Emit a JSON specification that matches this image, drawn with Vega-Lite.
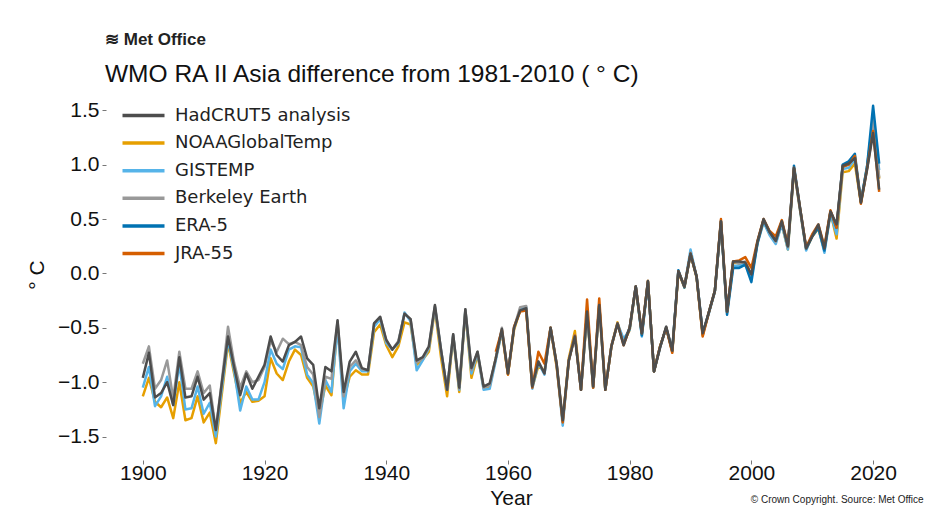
{
"$schema": "https://vega.github.io/schema/vega-lite/v6.json",
"width": 810, "height": 371,
"autosize": {"type": "none"},
"padding": {"left": 106, "top": 89, "right": 12, "bottom": 63},
"background": "white",
"title": {"text": "≋ Met Office", "subtitle": "WMO RA II Asia difference from 1981-2010 ( ° C)", "anchor": "start", "frame": "group", "dx": -1, "offset": 2, "font": "Liberation Sans", "fontSize": 17, "fontWeight": "bold", "color": "#222222", "subtitleFont": "Liberation Sans", "subtitleFontSize": 24.5, "subtitleColor": "#111111", "subtitlePadding": 14},
"datasets": {
"had": [{"year":1900,"value":-0.96},{"year":1901,"value":-0.73},{"year":1902,"value":-1.14},{"year":1903,"value":-1.10},{"year":1904,"value":-1.00},{"year":1905,"value":-1.21},{"year":1906,"value":-0.77},{"year":1907,"value":-1.14},{"year":1908,"value":-1.13},{"year":1909,"value":-0.95},{"year":1910,"value":-1.16},{"year":1911,"value":-1.10},{"year":1912,"value":-1.44},{"year":1913,"value":-1.00},{"year":1914,"value":-0.58},{"year":1915,"value":-0.86},{"year":1916,"value":-1.12},{"year":1917,"value":-0.92},{"year":1918,"value":-1.06},{"year":1919,"value":-0.95},{"year":1920,"value":-0.84},{"year":1921,"value":-0.58},{"year":1922,"value":-0.75},{"year":1923,"value":-0.81},{"year":1924,"value":-0.66},{"year":1925,"value":-0.63},{"year":1926,"value":-0.58},{"year":1927,"value":-0.78},{"year":1928,"value":-0.84},{"year":1929,"value":-1.24},{"year":1930,"value":-0.86},{"year":1931,"value":-0.90},{"year":1932,"value":-0.43},{"year":1933,"value":-1.09},{"year":1934,"value":-0.81},{"year":1935,"value":-0.72},{"year":1936,"value":-0.87},{"year":1937,"value":-0.89},{"year":1938,"value":-0.46},{"year":1939,"value":-0.40},{"year":1940,"value":-0.61},{"year":1941,"value":-0.70},{"year":1942,"value":-0.63},{"year":1943,"value":-0.37},{"year":1944,"value":-0.42},{"year":1945,"value":-0.80},{"year":1946,"value":-0.77},{"year":1947,"value":-0.67},{"year":1948,"value":-0.29},{"year":1949,"value":-0.70},{"year":1950,"value":-1.07},{"year":1951,"value":-0.56},{"year":1952,"value":-1.05},{"year":1953,"value":-0.33},{"year":1954,"value":-0.87},{"year":1955,"value":-0.72},{"year":1956,"value":-1.04},{"year":1957,"value":-1.01},{"year":1958,"value":-0.78},{"year":1959,"value":-0.51},{"year":1960,"value":-0.92},{"year":1961,"value":-0.50},{"year":1962,"value":-0.34},{"year":1963,"value":-0.32},{"year":1964,"value":-1.04},{"year":1965,"value":-0.81},{"year":1966,"value":-0.92},{"year":1967,"value":-0.50},{"year":1968,"value":-0.83},{"year":1969,"value":-1.35},{"year":1970,"value":-0.80},{"year":1971,"value":-0.58},{"year":1972,"value":-1.07},{"year":1973,"value":-0.35},{"year":1974,"value":-1.04},{"year":1975,"value":-0.29},{"year":1976,"value":-1.07},{"year":1977,"value":-0.67},{"year":1978,"value":-0.46},{"year":1979,"value":-0.66},{"year":1980,"value":-0.50},{"year":1981,"value":-0.12},{"year":1982,"value":-0.55},{"year":1983,"value":-0.07},{"year":1984,"value":-0.90},{"year":1985,"value":-0.68},{"year":1986,"value":-0.49},{"year":1987,"value":-0.71},{"year":1988,"value":0.02},{"year":1989,"value":-0.12},{"year":1990,"value":0.18},{"year":1991,"value":-0.03},{"year":1992,"value":-0.55},{"year":1993,"value":-0.36},{"year":1994,"value":-0.16},{"year":1995,"value":0.48},{"year":1996,"value":-0.35},{"year":1997,"value":0.11},{"year":1998,"value":0.11},{"year":1999,"value":0.10},{"year":2000,"value":-0.01},{"year":2001,"value":0.29},{"year":2002,"value":0.50},{"year":2003,"value":0.38},{"year":2004,"value":0.30},{"year":2005,"value":0.48},{"year":2006,"value":0.25},{"year":2007,"value":0.97},{"year":2008,"value":0.60},{"year":2009,"value":0.23},{"year":2010,"value":0.34},{"year":2011,"value":0.45},{"year":2012,"value":0.23},{"year":2013,"value":0.57},{"year":2014,"value":0.45},{"year":2015,"value":0.99},{"year":2016,"value":1.01},{"year":2017,"value":1.06},{"year":2018,"value":0.65},{"year":2019,"value":0.95},{"year":2020,"value":1.29},{"year":2021,"value":0.77}],
"noaa": [{"year":1900,"value":-1.13},{"year":1901,"value":-0.96},{"year":1902,"value":-1.18},{"year":1903,"value":-1.23},{"year":1904,"value":-1.14},{"year":1905,"value":-1.33},{"year":1906,"value":-1.00},{"year":1907,"value":-1.35},{"year":1908,"value":-1.33},{"year":1909,"value":-1.13},{"year":1910,"value":-1.37},{"year":1911,"value":-1.28},{"year":1912,"value":-1.56},{"year":1913,"value":-1.10},{"year":1914,"value":-0.64},{"year":1915,"value":-0.92},{"year":1916,"value":-1.19},{"year":1917,"value":-1.09},{"year":1918,"value":-1.18},{"year":1919,"value":-1.17},{"year":1920,"value":-1.13},{"year":1921,"value":-0.78},{"year":1922,"value":-0.92},{"year":1923,"value":-0.98},{"year":1924,"value":-0.81},{"year":1925,"value":-0.70},{"year":1926,"value":-0.75},{"year":1927,"value":-0.96},{"year":1928,"value":-1.04},{"year":1929,"value":-1.30},{"year":1930,"value":-1.03},{"year":1931,"value":-1.12},{"year":1932,"value":-0.47},{"year":1933,"value":-1.16},{"year":1934,"value":-0.95},{"year":1935,"value":-0.89},{"year":1936,"value":-0.93},{"year":1937,"value":-0.93},{"year":1938,"value":-0.54},{"year":1939,"value":-0.47},{"year":1940,"value":-0.66},{"year":1941,"value":-0.77},{"year":1942,"value":-0.67},{"year":1943,"value":-0.45},{"year":1944,"value":-0.47},{"year":1945,"value":-0.84},{"year":1946,"value":-0.79},{"year":1947,"value":-0.72},{"year":1948,"value":-0.33},{"year":1949,"value":-0.77},{"year":1950,"value":-1.13},{"year":1951,"value":-0.58},{"year":1952,"value":-1.09},{"year":1953,"value":-0.35},{"year":1954,"value":-0.96},{"year":1955,"value":-0.75},{"year":1956,"value":-1.05},{"year":1957,"value":-1.04},{"year":1958,"value":-0.78},{"year":1959,"value":-0.54},{"year":1960,"value":-0.93},{"year":1961,"value":-0.52},{"year":1962,"value":-0.34},{"year":1963,"value":-0.33},{"year":1964,"value":-1.05},{"year":1965,"value":-0.85},{"year":1966,"value":-0.90},{"year":1967,"value":-0.50},{"year":1968,"value":-0.86},{"year":1969,"value":-1.36},{"year":1970,"value":-0.78},{"year":1971,"value":-0.53},{"year":1972,"value":-1.07},{"year":1973,"value":-0.37},{"year":1974,"value":-1.05},{"year":1975,"value":-0.30},{"year":1976,"value":-1.07},{"year":1977,"value":-0.67},{"year":1978,"value":-0.45},{"year":1979,"value":-0.64},{"year":1980,"value":-0.52},{"year":1981,"value":-0.13},{"year":1982,"value":-0.56},{"year":1983,"value":-0.07},{"year":1984,"value":-0.90},{"year":1985,"value":-0.67},{"year":1986,"value":-0.50},{"year":1987,"value":-0.72},{"year":1988,"value":0.01},{"year":1989,"value":-0.13},{"year":1990,"value":0.18},{"year":1991,"value":-0.04},{"year":1992,"value":-0.57},{"year":1993,"value":-0.36},{"year":1994,"value":-0.16},{"year":1995,"value":0.47},{"year":1996,"value":-0.36},{"year":1997,"value":0.10},{"year":1998,"value":0.09},{"year":1999,"value":0.10},{"year":2000,"value":-0.02},{"year":2001,"value":0.28},{"year":2002,"value":0.48},{"year":2003,"value":0.36},{"year":2004,"value":0.29},{"year":2005,"value":0.45},{"year":2006,"value":0.22},{"year":2007,"value":0.95},{"year":2008,"value":0.58},{"year":2009,"value":0.22},{"year":2010,"value":0.34},{"year":2011,"value":0.41},{"year":2012,"value":0.21},{"year":2013,"value":0.56},{"year":2014,"value":0.32},{"year":2015,"value":0.93},{"year":2016,"value":0.94},{"year":2017,"value":1.01},{"year":2018,"value":0.65},{"year":2019,"value":0.97},{"year":2020,"value":1.35},{"year":2021,"value":0.87}],
"gis": [{"year":1900,"value":-1.05},{"year":1901,"value":-0.86},{"year":1902,"value":-1.22},{"year":1903,"value":-1.13},{"year":1904,"value":-0.95},{"year":1905,"value":-1.21},{"year":1906,"value":-0.83},{"year":1907,"value":-1.25},{"year":1908,"value":-1.24},{"year":1909,"value":-1.04},{"year":1910,"value":-1.29},{"year":1911,"value":-1.19},{"year":1912,"value":-1.50},{"year":1913,"value":-1.05},{"year":1914,"value":-0.61},{"year":1915,"value":-0.89},{"year":1916,"value":-1.26},{"year":1917,"value":-1.04},{"year":1918,"value":-1.16},{"year":1919,"value":-1.16},{"year":1920,"value":-1.00},{"year":1921,"value":-0.70},{"year":1922,"value":-0.83},{"year":1923,"value":-0.88},{"year":1924,"value":-0.70},{"year":1925,"value":-0.67},{"year":1926,"value":-0.68},{"year":1927,"value":-0.93},{"year":1928,"value":-1.01},{"year":1929,"value":-1.38},{"year":1930,"value":-0.98},{"year":1931,"value":-1.09},{"year":1932,"value":-0.49},{"year":1933,"value":-1.24},{"year":1934,"value":-0.90},{"year":1935,"value":-0.83},{"year":1936,"value":-0.90},{"year":1937,"value":-0.90},{"year":1938,"value":-0.49},{"year":1939,"value":-0.42},{"year":1940,"value":-0.64},{"year":1941,"value":-0.70},{"year":1942,"value":-0.64},{"year":1943,"value":-0.36},{"year":1944,"value":-0.44},{"year":1945,"value":-0.89},{"year":1946,"value":-0.80},{"year":1947,"value":-0.69},{"year":1948,"value":-0.31},{"year":1949,"value":-0.71},{"year":1950,"value":-1.07},{"year":1951,"value":-0.57},{"year":1952,"value":-1.07},{"year":1953,"value":-0.34},{"year":1954,"value":-0.92},{"year":1955,"value":-0.73},{"year":1956,"value":-1.07},{"year":1957,"value":-1.06},{"year":1958,"value":-0.80},{"year":1959,"value":-0.53},{"year":1960,"value":-0.92},{"year":1961,"value":-0.50},{"year":1962,"value":-0.33},{"year":1963,"value":-0.31},{"year":1964,"value":-1.06},{"year":1965,"value":-0.82},{"year":1966,"value":-0.93},{"year":1967,"value":-0.50},{"year":1968,"value":-0.84},{"year":1969,"value":-1.40},{"year":1970,"value":-0.80},{"year":1971,"value":-0.57},{"year":1972,"value":-1.07},{"year":1973,"value":-0.36},{"year":1974,"value":-1.05},{"year":1975,"value":-0.29},{"year":1976,"value":-1.07},{"year":1977,"value":-0.67},{"year":1978,"value":-0.46},{"year":1979,"value":-0.60},{"year":1980,"value":-0.52},{"year":1981,"value":-0.12},{"year":1982,"value":-0.58},{"year":1983,"value":-0.08},{"year":1984,"value":-0.90},{"year":1985,"value":-0.68},{"year":1986,"value":-0.50},{"year":1987,"value":-0.72},{"year":1988,"value":0.02},{"year":1989,"value":-0.12},{"year":1990,"value":0.22},{"year":1991,"value":-0.03},{"year":1992,"value":-0.55},{"year":1993,"value":-0.37},{"year":1994,"value":-0.17},{"year":1995,"value":0.47},{"year":1996,"value":-0.36},{"year":1997,"value":0.07},{"year":1998,"value":0.07},{"year":1999,"value":0.09},{"year":2000,"value":-0.04},{"year":2001,"value":0.27},{"year":2002,"value":0.47},{"year":2003,"value":0.35},{"year":2004,"value":0.27},{"year":2005,"value":0.45},{"year":2006,"value":0.22},{"year":2007,"value":0.96},{"year":2008,"value":0.58},{"year":2009,"value":0.21},{"year":2010,"value":0.35},{"year":2011,"value":0.42},{"year":2012,"value":0.19},{"year":2013,"value":0.55},{"year":2014,"value":0.36},{"year":2015,"value":0.96},{"year":2016,"value":0.97},{"year":2017,"value":1.05},{"year":2018,"value":0.66},{"year":2019,"value":0.98},{"year":2020,"value":1.42},{"year":2021,"value":0.95}],
"berk": [{"year":1900,"value":-0.83},{"year":1901,"value":-0.67},{"year":1902,"value":-1.06},{"year":1903,"value":-0.98},{"year":1904,"value":-0.80},{"year":1905,"value":-1.15},{"year":1906,"value":-0.72},{"year":1907,"value":-1.06},{"year":1908,"value":-1.06},{"year":1909,"value":-0.90},{"year":1910,"value":-1.10},{"year":1911,"value":-1.03},{"year":1912,"value":-1.44},{"year":1913,"value":-0.98},{"year":1914,"value":-0.49},{"year":1915,"value":-0.82},{"year":1916,"value":-1.05},{"year":1917,"value":-0.90},{"year":1918,"value":-1.00},{"year":1919,"value":-0.98},{"year":1920,"value":-0.86},{"year":1921,"value":-0.62},{"year":1922,"value":-0.72},{"year":1923,"value":-0.60},{"year":1924,"value":-0.65},{"year":1925,"value":-0.63},{"year":1926,"value":-0.66},{"year":1927,"value":-0.86},{"year":1928,"value":-0.93},{"year":1929,"value":-1.32},{"year":1930,"value":-0.95},{"year":1931,"value":-0.97},{"year":1932,"value":-0.44},{"year":1933,"value":-1.13},{"year":1934,"value":-0.86},{"year":1935,"value":-0.80},{"year":1936,"value":-0.88},{"year":1937,"value":-0.89},{"year":1938,"value":-0.46},{"year":1939,"value":-0.40},{"year":1940,"value":-0.62},{"year":1941,"value":-0.70},{"year":1942,"value":-0.62},{"year":1943,"value":-0.37},{"year":1944,"value":-0.42},{"year":1945,"value":-0.82},{"year":1946,"value":-0.78},{"year":1947,"value":-0.68},{"year":1948,"value":-0.30},{"year":1949,"value":-0.70},{"year":1950,"value":-1.07},{"year":1951,"value":-0.56},{"year":1952,"value":-1.06},{"year":1953,"value":-0.33},{"year":1954,"value":-0.89},{"year":1955,"value":-0.72},{"year":1956,"value":-1.05},{"year":1957,"value":-1.03},{"year":1958,"value":-0.78},{"year":1959,"value":-0.50},{"year":1960,"value":-0.92},{"year":1961,"value":-0.50},{"year":1962,"value":-0.31},{"year":1963,"value":-0.30},{"year":1964,"value":-1.04},{"year":1965,"value":-0.81},{"year":1966,"value":-0.92},{"year":1967,"value":-0.50},{"year":1968,"value":-0.83},{"year":1969,"value":-1.36},{"year":1970,"value":-0.80},{"year":1971,"value":-0.57},{"year":1972,"value":-1.07},{"year":1973,"value":-0.35},{"year":1974,"value":-1.04},{"year":1975,"value":-0.29},{"year":1976,"value":-1.07},{"year":1977,"value":-0.66},{"year":1978,"value":-0.46},{"year":1979,"value":-0.64},{"year":1980,"value":-0.50},{"year":1981,"value":-0.12},{"year":1982,"value":-0.55},{"year":1983,"value":-0.07},{"year":1984,"value":-0.90},{"year":1985,"value":-0.68},{"year":1986,"value":-0.49},{"year":1987,"value":-0.70},{"year":1988,"value":0.02},{"year":1989,"value":-0.12},{"year":1990,"value":0.19},{"year":1991,"value":-0.03},{"year":1992,"value":-0.55},{"year":1993,"value":-0.36},{"year":1994,"value":-0.16},{"year":1995,"value":0.48},{"year":1996,"value":-0.35},{"year":1997,"value":0.11},{"year":1998,"value":0.09},{"year":1999,"value":0.11},{"year":2000,"value":-0.01},{"year":2001,"value":0.29},{"year":2002,"value":0.49},{"year":2003,"value":0.37},{"year":2004,"value":0.29},{"year":2005,"value":0.47},{"year":2006,"value":0.24},{"year":2007,"value":0.97},{"year":2008,"value":0.59},{"year":2009,"value":0.23},{"year":2010,"value":0.35},{"year":2011,"value":0.44},{"year":2012,"value":0.22},{"year":2013,"value":0.57},{"year":2014,"value":0.44},{"year":2015,"value":0.98},{"year":2016,"value":1.00},{"year":2017,"value":1.07},{"year":2018,"value":0.66},{"year":2019,"value":0.97},{"year":2020,"value":1.42},{"year":2021,"value":0.88}],
"era": [{"year":1979,"value":-0.64},{"year":1980,"value":-0.50},{"year":1981,"value":-0.12},{"year":1982,"value":-0.57},{"year":1983,"value":-0.08},{"year":1984,"value":-0.90},{"year":1985,"value":-0.67},{"year":1986,"value":-0.50},{"year":1987,"value":-0.71},{"year":1988,"value":0.03},{"year":1989,"value":-0.13},{"year":1990,"value":0.18},{"year":1991,"value":-0.03},{"year":1992,"value":-0.56},{"year":1993,"value":-0.36},{"year":1994,"value":-0.16},{"year":1995,"value":0.48},{"year":1996,"value":-0.38},{"year":1997,"value":0.05},{"year":1998,"value":0.05},{"year":1999,"value":0.08},{"year":2000,"value":-0.08},{"year":2001,"value":0.28},{"year":2002,"value":0.49},{"year":2003,"value":0.38},{"year":2004,"value":0.30},{"year":2005,"value":0.48},{"year":2006,"value":0.25},{"year":2007,"value":0.99},{"year":2008,"value":0.60},{"year":2009,"value":0.23},{"year":2010,"value":0.34},{"year":2011,"value":0.42},{"year":2012,"value":0.21},{"year":2013,"value":0.57},{"year":2014,"value":0.42},{"year":2015,"value":1.00},{"year":2016,"value":1.03},{"year":2017,"value":1.10},{"year":2018,"value":0.66},{"year":2019,"value":0.98},{"year":2020,"value":1.54},{"year":2021,"value":1.01}],
"jra": [{"year":1958,"value":-0.72},{"year":1959,"value":-0.52},{"year":1960,"value":-0.93},{"year":1961,"value":-0.49},{"year":1962,"value":-0.35},{"year":1963,"value":-0.34},{"year":1964,"value":-1.05},{"year":1965,"value":-0.72},{"year":1966,"value":-0.83},{"year":1967,"value":-0.50},{"year":1968,"value":-0.84},{"year":1969,"value":-1.37},{"year":1970,"value":-0.80},{"year":1971,"value":-0.57},{"year":1972,"value":-1.07},{"year":1973,"value":-0.24},{"year":1974,"value":-1.05},{"year":1975,"value":-0.23},{"year":1976,"value":-1.07},{"year":1977,"value":-0.67},{"year":1978,"value":-0.46},{"year":1979,"value":-0.66},{"year":1980,"value":-0.50},{"year":1981,"value":-0.12},{"year":1982,"value":-0.55},{"year":1983,"value":-0.07},{"year":1984,"value":-0.90},{"year":1985,"value":-0.67},{"year":1986,"value":-0.50},{"year":1987,"value":-0.73},{"year":1988,"value":0.02},{"year":1989,"value":-0.12},{"year":1990,"value":0.18},{"year":1991,"value":-0.03},{"year":1992,"value":-0.58},{"year":1993,"value":-0.36},{"year":1994,"value":-0.16},{"year":1995,"value":0.50},{"year":1996,"value":-0.35},{"year":1997,"value":0.11},{"year":1998,"value":0.12},{"year":1999,"value":0.15},{"year":2000,"value":0.05},{"year":2001,"value":0.30},{"year":2002,"value":0.50},{"year":2003,"value":0.39},{"year":2004,"value":0.34},{"year":2005,"value":0.49},{"year":2006,"value":0.26},{"year":2007,"value":0.97},{"year":2008,"value":0.60},{"year":2009,"value":0.24},{"year":2010,"value":0.36},{"year":2011,"value":0.45},{"year":2012,"value":0.25},{"year":2013,"value":0.58},{"year":2014,"value":0.42},{"year":2015,"value":0.98},{"year":2016,"value":1.00},{"year":2017,"value":1.08},{"year":2018,"value":0.64},{"year":2019,"value":0.96},{"year":2020,"value":1.31},{"year":2021,"value":0.75}],
"note": [{"label": "© Crown Copyright. Source: Met Office", "year": 1999.9, "value": -1.715}]
},
"encoding": {
"x": {"field": "year", "type": "quantitative", "scale": {"domain": [1893.95, 2027.05], "nice": false, "zero": false},
 "axis": {"values": [1900, 1920, 1940, 1960, 1980, 2000, 2020], "format": "d", "title": "Year", "grid": false, "domain": false, "tickSize": 4, "tickColor": "#777777", "labelFont": "Liberation Sans", "labelFontSize": 21, "labelColor": "#111111", "labelPadding": -2, "titleFont": "Liberation Sans", "titleFontSize": 21, "titleFontWeight": "normal", "titleColor": "#111111", "titlePadding": 4}},
"y": {"field": "value", "type": "quantitative", "scale": {"domain": [-1.715, 1.695], "nice": false, "zero": false},
 "axis": {"values": [-1.5, -1, -0.5, 0, 0.5, 1, 1.5], "format": ".1f", "title": "° C", "grid": false, "domain": false, "tickSize": 4, "tickColor": "#777777", "labelFont": "Liberation Sans", "labelFontSize": 21, "labelColor": "#111111", "labelPadding": 3, "titleFont": "Liberation Sans", "titleFontSize": 21, "titleFontWeight": "normal", "titleColor": "#111111", "titlePadding": 10}}
},
"layer": [
{"data": {"name": "noaa"}, "mark": {"type": "line", "strokeWidth": 2.5, "strokeJoin": "round"},
 "encoding": {"color": {"datum": "NOAAGlobalTemp", "type": "nominal",
  "scale": {"domain": ["HadCRUT5 analysis", "NOAAGlobalTemp", "GISTEMP", "Berkeley Earth", "ERA-5", "JRA-55"], "range": ["#4d4d4d", "#E69F00", "#56B4E9", "#999999", "#0072B2", "#D55E00"]},
  "legend": {"title": null, "orient": "none", "legendX": 25, "legendY": 14, "padding": 0, "symbolType": "M-2,0H2", "symbolSize": 441, "symbolStrokeWidth": 3.5, "labelFont": "DejaVu Sans", "labelFontSize": 18, "labelColor": "#222222", "labelOffset": 19, "labelLimit": 0, "rowPadding": 5.6}}}},
{"data": {"name": "gis"}, "mark": {"type": "line", "strokeWidth": 2.5, "strokeJoin": "round"}, "encoding": {"color": {"datum": "GISTEMP", "type": "nominal"}}},
{"data": {"name": "berk"}, "mark": {"type": "line", "strokeWidth": 2.5, "strokeJoin": "round"}, "encoding": {"color": {"datum": "Berkeley Earth", "type": "nominal"}}},
{"data": {"name": "era"}, "mark": {"type": "line", "strokeWidth": 2.5, "strokeJoin": "round"}, "encoding": {"color": {"datum": "ERA-5", "type": "nominal"}}},
{"data": {"name": "jra"}, "mark": {"type": "line", "strokeWidth": 2.5, "strokeJoin": "round"}, "encoding": {"color": {"datum": "JRA-55", "type": "nominal"}}},
{"data": {"name": "had"}, "mark": {"type": "line", "strokeWidth": 2.5, "strokeJoin": "round"}, "encoding": {"color": {"datum": "HadCRUT5 analysis", "type": "nominal"}}},
{"data": {"name": "note"}, "mark": {"type": "text", "align": "left", "baseline": "middle", "dy": 40, "font": "Liberation Sans", "fontSize": 10, "fill": "#222222"},
 "encoding": {"text": {"field": "label", "type": "nominal"}}}
],
"config": {"view": {"stroke": null}}
}
